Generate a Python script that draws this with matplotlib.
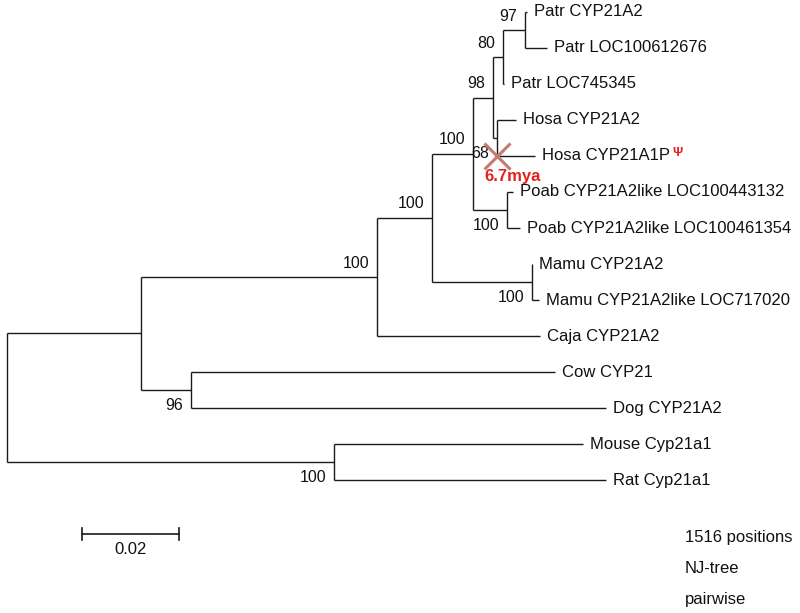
import matplotlib
matplotlib.use("Agg")
import matplotlib.pyplot as plt

plt.rcParams["font.family"] = ["Liberation Sans", "DejaVu Sans"]

# tips, top to bottom, with the length of their terminal branch
taxa = [
    "Patr CYP21A2",
    "Patr LOC100612676",
    "Patr LOC745345",
    "Hosa CYP21A2",
    "Hosa CYP21A1P",
    "Poab CYP21A2like LOC100443132",
    "Poab CYP21A2like LOC100461354",
    "Mamu CYP21A2",
    "Mamu CYP21A2like LOC717020",
    "Caja CYP21A2",
    "Cow CYP21",
    "Dog CYP21A2",
    "Mouse Cyp21a1",
    "Rat Cyp21a1",
]
tip_len = [0.0004, 0.0045, 0.0002, 0.0039, 0.0078, 0.0012, 0.0027,
           0.0000, 0.0014, 0.0336, 0.0751, 0.0856, 0.0513, 0.0561]

# internal nodes (children listed top to bottom)
node_names = ["G", "F", "H", "E", "Poab", "D", "Mamu", "C", "B", "CD", "A", "MR", "root"]
node_children = [
    ["Patr CYP21A2", "Patr LOC100612676"],
    ["G", "Patr LOC745345"],
    ["Hosa CYP21A2", "Hosa CYP21A1P"],
    ["F", "H"],
    ["Poab CYP21A2like LOC100443132", "Poab CYP21A2like LOC100461354"],
    ["E", "Poab"],
    ["Mamu CYP21A2", "Mamu CYP21A2like LOC717020"],
    ["D", "Mamu"],
    ["C", "Caja CYP21A2"],
    ["Cow CYP21", "Dog CYP21A2"],
    ["B", "CD"],
    ["Mouse Cyp21a1", "Rat Cyp21a1"],
    ["A", "MR"],
]
node_len = [0.0045, 0.0021, 0.0008, 0.0041, 0.0070, 0.0085, 0.0206,
            0.0113, 0.0487, 0.0103, 0.0276, 0.0674, 0.0]
bootstrap = [97, 80, 68, 98, 100, 100, 100, 100, 100, 96, None, 100, None]
boot_side = ["up", "up", "down", "up", "down", "up", "down",
             "up", "up", "down", None, "down", None]

scale_len = 0.02
notes = ["1516 positions", "NJ-tree", "pairwise"]
event_label = "6.7mya"

# ---- layout -------------------------------------------------------------
length = dict(zip(taxa, tip_len))
length.update(zip(node_names, node_len))
children = dict(zip(node_names, node_children))
ypos = {name: i for i, name in enumerate(taxa)}
xpos = {}


def place(name, x0):
    xpos[name] = x0 + length[name]
    if name in children:
        for c in children[name]:
            place(c, xpos[name])
        kids = children[name]
        ypos[name] = (ypos[kids[0]] + ypos[kids[-1]]) / 2


place("root", 0.0)

PX = 0.02 / 97  # branch length per pixel
fig = plt.figure(figsize=(8, 6.13), dpi=100)
ax = fig.add_axes([0, 0, 1, 1])
ax.set_xlim(-7 * PX, 793 * PX)
ax.set_ylim(601 / 36, -12 / 36)
ax.axis("off")

lc = "#1a1a1a"
lw = 1.0
for name in node_names:
    kids = children[name]
    x = xpos[name]
    ax.plot([x, x], [ypos[kids[0]], ypos[kids[-1]]], color=lc, lw=lw,
            solid_capstyle="butt")
    for c in kids:
        ax.plot([x, xpos[c]], [ypos[c], ypos[c]], color=lc, lw=lw,
                solid_capstyle="butt")

for name in taxa:
    ax.annotate(name, (xpos[name], ypos[name]), xytext=(5, 0),
                textcoords="offset points", ha="left", va="center",
                fontsize=12, color="#111111")

for name, bs, side in zip(node_names, bootstrap, boot_side):
    if bs is None:
        continue
    dy = 10 if side == "up" else -11.5
    ax.annotate(str(bs), (xpos[name], ypos[name]), xytext=(-5.5, dy),
                textcoords="offset points", ha="right", va="center",
                fontsize=11.5, color="#111111")

# pseudogene event on the Hosa CYP21A1P branch
xe, ye = xpos["H"], ypos["Hosa CYP21A1P"]
ax.plot(xe, ye, marker="x", markersize=19, mew=2.2, color="#c77a70", zorder=5)
ax.annotate(event_label, (xe, ye), xytext=(11, -14.5), textcoords="offset points",
            ha="center", va="center", fontsize=12, fontweight="bold",
            color="#e3211c", zorder=6)
ax.annotate("\u03a8", (xpos["Hosa CYP21A1P"], ye), xytext=(103, 2),
            textcoords="offset points", ha="center", va="center",
            fontsize=9, fontweight="bold", color="#e3211c")

# scale bar
sx0 = 75 * PX
sy = 14.5
ax.plot([sx0, sx0 + scale_len], [sy, sy], color=lc, lw=1.2)
for sx in (sx0, sx0 + scale_len):
    ax.plot([sx, sx], [sy - 0.17, sy + 0.17], color=lc, lw=1.2)
ax.text(sx0 + scale_len / 2, sy + 0.44, f"{scale_len:.2f}", ha="center",
        va="center", fontsize=12, color="#111111")

for i, txt in enumerate(notes):
    ax.text(678 * PX, 14.61 + i * 0.85, txt, ha="left", va="center",
            fontsize=12, color="#111111")

fig.savefig("out.png", dpi=100)
